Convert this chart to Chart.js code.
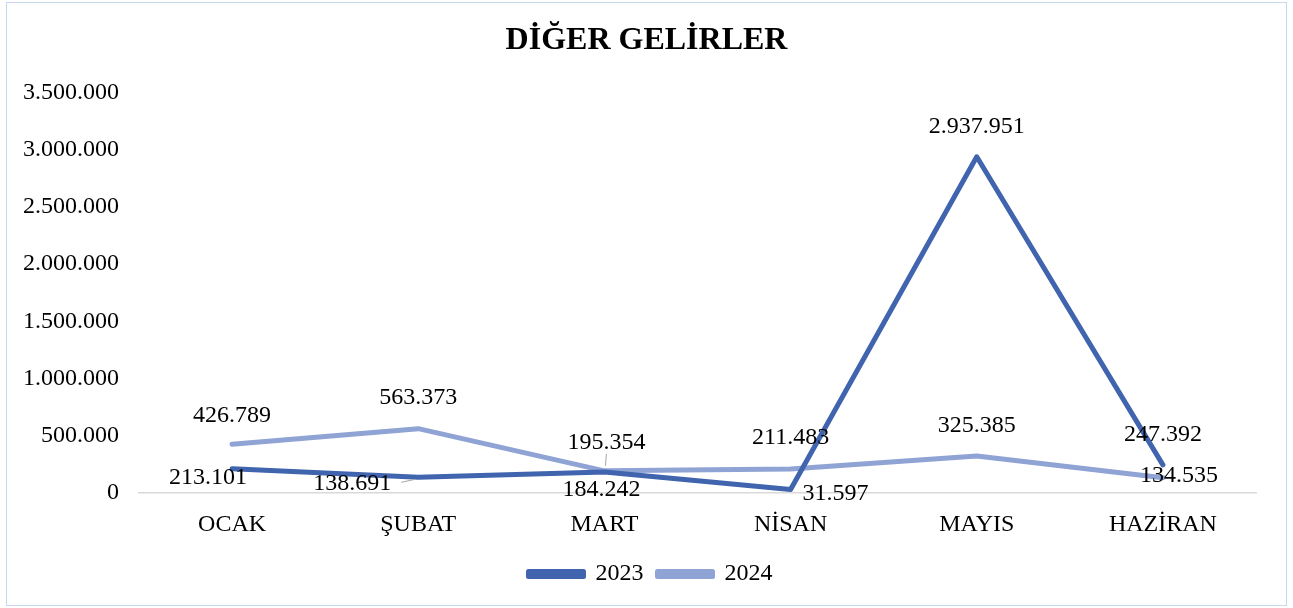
<!DOCTYPE html>
<html>
<head>
<meta charset="utf-8">
<script src="https://cdn.jsdelivr.net/npm/chart.js@4"></script>
<style>
    body { margin: 0; background: #fff; }
    #frame {
        position: absolute; left: 6px; top: 2px;
        width: 1279px; height: 602px;
        border: 1px solid #c6d9f0;
    }
    #chart { position: absolute; left: 0; top: 0; }
</style>
</head>
<body>
<div id="frame"></div>
<canvas id="chart" width="1293" height="608"></canvas>
<script>
// Data
const months = ['OCAK', 'ŞUBAT', 'MART', 'NİSAN', 'MAYIS', 'HAZİRAN'];
const values2023 = [213101, 138691, 184242, 31597, 2937951, 247392];
const values2024 = [426789, 563373, 195354, 211483, 325385, 134535];
const yTicks = [0, 500000, 1000000, 1500000, 2000000, 2500000, 3000000, 3500000];

// Label placement (pixel offsets from the point), like the Excel labels
const labelPos2023 = [
    { dx: -24, dy: 9 }, { dx: -66, dy: 6, leader: true }, { dx: -3, dy: 18 },
    { dx: 45, dy: 4 }, { dx: 0, dy: -30 }, { dx: 0, dy: -30 }
];
const labelPos2024 = [
    { dx: 0, dy: -29 }, { dx: 0, dy: -31 }, { dx: 2, dy: -28, leader: true },
    { dx: 0, dy: -31 }, { dx: 0, dy: -30 }, { dx: 16, dy: -2 }
];

const FONT = "'Liberation Serif', 'Times New Roman', serif";

function fmt(v) {
    return String(v).replace(/\B(?=(\d{3})+(?!\d))/g, '.');
}

// Center title and legend on the whole canvas, not just the padded area
const centerBlocks = {
    id: 'centerBlocks',
    afterLayout(chart) {
        if (chart.titleBlock) {
            chart.titleBlock.left = 0;
            chart.titleBlock.right = chart.width;
        }
        if (chart.legend) {
            chart.legend.left = 4;
            chart.legend.right = chart.width + 4;
        }
    }
};

// Draws the value labels next to each point
const valueLabels = {
    id: 'valueLabels',
    afterDatasetsDraw(chart) {
        const ctx = chart.ctx;
        const positions = [labelPos2023, labelPos2024];
        ctx.save();
        ctx.font = '24px ' + FONT;
        ctx.textAlign = 'center';
        ctx.textBaseline = 'middle';
        chart.data.datasets.forEach((ds, di) => {
            const meta = chart.getDatasetMeta(di);
            meta.data.forEach((pt, i) => {
                const p = positions[di][i];
                const tx = pt.x + p.dx;
                const ty = pt.y + p.dy;
                const text = fmt(ds.data[i]);
                if (p.leader) {
                    ctx.strokeStyle = '#a6a6a6';
                    ctx.lineWidth = 1;
                    ctx.beginPath();
                    if (Math.abs(p.dx) > Math.abs(p.dy)) {
                        const w = ctx.measureText(text).width / 2;
                        ctx.moveTo(tx + w + 10, ty - 1);
                        ctx.lineTo(pt.x - 3, pt.y + 2);
                    } else {
                        ctx.moveTo(tx, ty + 11);
                        ctx.lineTo(pt.x + 1, pt.y - 5);
                    }
                    ctx.stroke();
                }
                ctx.fillStyle = '#000';
                ctx.fillText(text, tx, ty);
            });
        });
        ctx.restore();
    }
};

new Chart(document.getElementById('chart'), {
    type: 'line',
    data: {
        labels: months,
        datasets: [{
            label: '2023',
            data: values2023,
            borderColor: '#4064ae',
            backgroundColor: '#4064ae',
            borderWidth: 5,
            pointRadius: 0,
            tension: 0,
            borderCapStyle: 'round',
            borderJoinStyle: 'round'
        }, {
            label: '2024',
            data: values2024,
            borderColor: '#8fa3d5',
            backgroundColor: '#8fa3d5',
            borderWidth: 5,
            pointRadius: 0,
            tension: 0,
            borderCapStyle: 'round',
            borderJoinStyle: 'round'
        }]
    },
    options: {
        responsive: false,
        animation: false,
        layout: {
            padding: { left: 10, right: 37, top: 0, bottom: 12 }
        },
        plugins: {
            title: {
                display: true,
                text: 'DİĞER GELİRLER',
                color: '#000',
                font: { family: FONT, size: 32, weight: 'bold' },
                padding: { top: 22, bottom: 32 }
            },
            legend: {
                display: true,
                position: 'bottom',
                labels: {
                    color: '#000',
                    font: { family: FONT, size: 24 },
                    boxWidth: 55,
                    boxHeight: 5,
                    padding: 14
                }
            },
            tooltip: { enabled: false }
        },
        scales: {
            x: {
                offset: true,
                grid: { display: false },
                border: { display: true, color: '#d9d9d9', width: 1.5 },
                ticks: {
                    color: '#000',
                    font: { family: FONT, size: 24 },
                    padding: 9
                }
            },
            y: {
                min: 0,
                max: 3500000,
                afterFit(scale) { scale.width = 129; },
                afterBuildTicks(scale) { scale.ticks = yTicks.map(v => ({ value: v })); },
                grid: { display: false, drawTicks: false },
                border: { display: false },
                ticks: {
                    color: '#000',
                    font: { family: FONT, size: 24 },
                    padding: 20,
                    callback: v => fmt(v)
                }
            }
        }
    },
    plugins: [centerBlocks, valueLabels]
});
</script>
</body>
</html>
